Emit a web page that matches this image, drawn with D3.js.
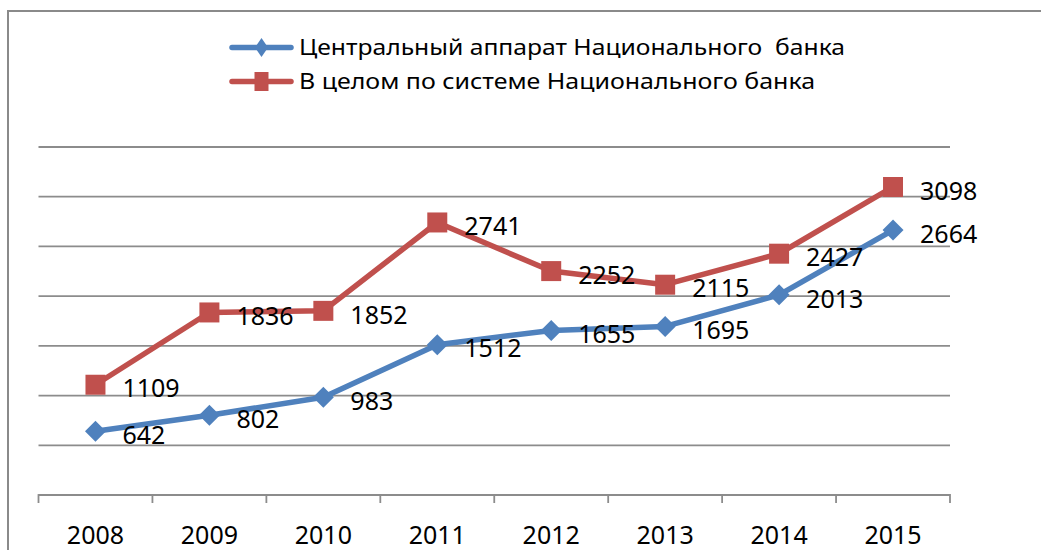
<!DOCTYPE html>
<html>
<head>
<meta charset="utf-8">
<script src="https://cdn.jsdelivr.net/npm/d3@7"></script>
<style>
  html, body { margin: 0; padding: 0; background: #fff; }
  svg { display: block; font-family: "Noto Sans", "Open Sans", sans-serif; }
</style>
</head>
<body>
<div id="chart"></div>
<script>
const years = ["2008", "2009", "2010", "2011", "2012", "2013", "2014", "2015"];
const centralValues = [642, 802, 983, 1512, 1655, 1695, 2013, 2664];
const systemValues = [1109, 1836, 1852, 2741, 2252, 2115, 2427, 3098];
const gridTicks = [500, 1000, 1500, 2000, 2500, 3000, 3500];
const seriesNames = ["Центральный аппарат Национального  банка", "В целом по системе Национального банка"];

const width = 1041, height = 550;
const margin = {top: 147, right: 91, bottom: 55, left: 38.5};

const svg = d3.select("#chart").append("svg")
    .attr("width", width)
    .attr("height", height);

// chart frame (only top and left edges visible)
svg.append("path")
    .attr("d", `M8,${height} V11 H${width}`)
    .attr("fill", "none")
    .attr("stroke", "#8a8a8a")
    .attr("stroke-width", 2);

const x = d3.scaleBand()
    .domain(years)
    .range([margin.left, width - margin.right]);

const y = d3.scaleLinear()
    .domain([0, 3500])
    .range([height - margin.bottom, margin.top]);

// gridlines
svg.append("g").selectAll("line")
    .data(gridTicks)
    .join("line")
    .attr("x1", margin.left)
    .attr("x2", width - margin.right)
    .attr("y1", d => y(d))
    .attr("y2", d => y(d))
    .attr("stroke", "#8c8c8c")
    .attr("stroke-width", 1.8);

// x axis
const xAxis = svg.append("g")
    .attr("transform", `translate(0,${y(0)})`);
xAxis.append("line")
    .attr("x1", margin.left)
    .attr("x2", width - margin.right)
    .attr("stroke", "#8c8c8c")
    .attr("stroke-width", 1.8);
const bounds = years.map(d => x(d)).concat([x(years[years.length - 1]) + x.bandwidth()]);
xAxis.selectAll("line.tick")
    .data(bounds)
    .join("line")
    .attr("class", "tick")
    .attr("x1", d => d)
    .attr("x2", d => d)
    .attr("y1", -0.9)
    .attr("y2", 8)
    .attr("stroke", "#8c8c8c")
    .attr("stroke-width", 1.8);
xAxis.selectAll("text")
    .data(years)
    .join("text")
    .attr("x", d => x(d) + x.bandwidth() / 2)
    .attr("y", 48.5)
    .attr("text-anchor", "middle")
    .style("font-size", "25px")
    .style("fill", "#000")
    .text(d => d);

const cx = d => x(d) + x.bandwidth() / 2;

const series = [
    {name: seriesNames[0], values: centralValues, color: "#4F81BD", marker: "diamond"},
    {name: seriesNames[1], values: systemValues, color: "#C0504D", marker: "square"}
];

function markerPath(type, w, h) {
    if (type === "diamond") return `M0,${-h / 2} L${w / 2},0 L0,${h / 2} L${-w / 2},0 Z`;
    return `M${-w / 2},${-h / 2} h${w} v${h} h${-w} Z`;
}

const line = d3.line()
    .x(d => cx(d.year))
    .y(d => y(d.value));

series.forEach(s => {
    const pts = years.map((yr, i) => ({year: yr, value: s.values[i]}));
    const g = svg.append("g");
    g.append("path")
        .datum(pts)
        .attr("d", line)
        .attr("fill", "none")
        .attr("stroke", s.color)
        .attr("stroke-width", 5.5)
        .attr("stroke-linejoin", "round");
    g.selectAll("path.mk")
        .data(pts)
        .join("path")
        .attr("class", "mk")
        .attr("transform", d => `translate(${cx(d.year)},${y(d.value)})`)
        .attr("d", s.marker === "diamond" ? markerPath("diamond", 21, 21) : markerPath("square", 20, 20))
        .attr("fill", s.color);
    g.selectAll("text")
        .data(pts)
        .join("text")
        .attr("x", d => cx(d.year) + 27)
        .attr("y", d => y(d.value) + 4)
        .attr("dy", "0.35em")
        .style("font-size", "25px")
        .style("fill", "#000")
        .text(d => d.value);
});

// legend
const legendRows = [
    {y: 47.5, len: 546},
    {y: 81.5, len: 516}
];
series.forEach((s, i) => {
    const g = svg.append("g").attr("transform", `translate(0,${legendRows[i].y})`);
    g.append("line")
        .attr("x1", 232).attr("x2", 291)
        .attr("stroke", s.color)
        .attr("stroke-width", 5.5)
        .attr("stroke-linecap", "round");
    g.append("path")
        .attr("transform", "translate(261.5,0)")
        .attr("d", s.marker === "diamond" ? markerPath("diamond", 13, 19) : markerPath("square", 14, 19))
        .attr("fill", s.color);
    g.append("text")
        .attr("x", 299)
        .attr("dy", "0.35em")
        .attr("textLength", legendRows[i].len)
        .attr("lengthAdjust", "spacingAndGlyphs")
        .style("white-space", "pre")
        .style("font-size", "22px")
        .style("fill", "#000")
        .text(s.name);
});
</script>
</body>
</html>
